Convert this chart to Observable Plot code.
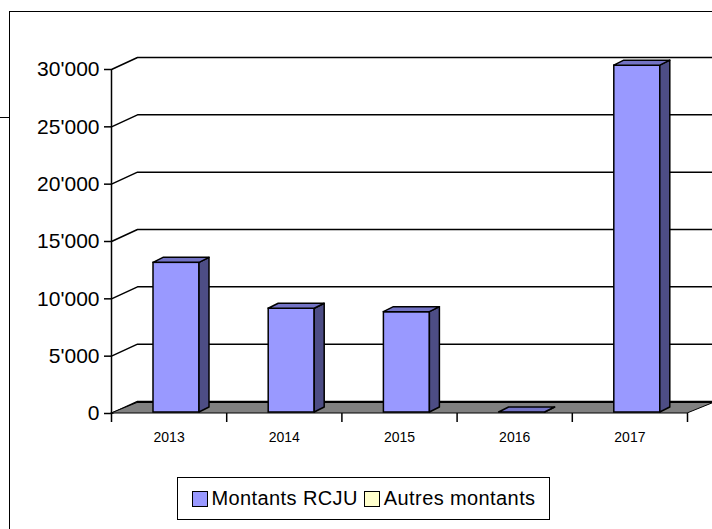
<!DOCTYPE html>
<html>
<head>
<meta charset="utf-8">
<script src="https://cdn.jsdelivr.net/npm/d3@7"></script>
<script src="https://cdn.jsdelivr.net/npm/@observablehq/plot@0.6"></script>
<style>
  html, body { margin: 0; padding: 0; background: #fff; color: #000; }
  #wrap { position: relative; width: 712px; height: 529px; overflow: hidden; font-family: "Liberation Sans", Arial, sans-serif; }
  #chart { position: absolute; left: 0; top: 0; }
  .frame { position: absolute; left: 9px; top: 11px; right: -5px; bottom: -5px; border-left: 1px solid #000; border-top: 1px solid #000; }
  .stub { position: absolute; left: 0; top: 117px; width: 9px; height: 0; border-top: 1px solid #000; }
  #legend { position: absolute; left: 177px; top: 477px; width: 371px; height: 41px; border: 1.5px solid #000; background: #fff;
            display: flex; align-items: center; justify-content: center; font-size: 20px; letter-spacing: 0.4px; }
  #legend .item { display: flex; align-items: center; margin: 0 3px; }
  #legend .sw { width: 14px; height: 14px; border: 1.5px solid #000; margin-right: 4px; }
</style>
</head>
<body>
<div id="wrap">
  <div class="frame"></div>
  <div class="stub"></div>
  <div id="chart"></div>
  <div id="legend"></div>
</div>
<script>
// ---- data ----
const years = ["2013", "2014", "2015", "2016", "2017"];
const montantsRCJU = [13050, 9050, 8750, 0, 30250];
const autresMontants = [0, 0, 0, 0, 0];
const yTicks = [0, 5000, 10000, 15000, 20000, 25000, 30000];
const seriesNames = ["Montants RCJU", "Autres montants"];
const seriesColors = ["#9999FF", "#FFFFCC"];

// ---- layout ----
const W = 712, H = 460, ML = 111, MR = 25, MT = 69, MB = 47;
const YMAX = 30000;
const pxX = (W - ML - MR) / years.length;
const pxY = (H - MT - MB) / YMAX;
const toX = px => px / pxX;
const toY = px => px / pxY;

const WDX = toX(26), WDY = toY(12), FDY = toY(10.5);
const BL = toX(42), BR = toX(88), BDX = toX(10), BDY = toY(5), BB = toY(1);
const XEND = years.length + toX(W - (ML + pxX * years.length));

const fmt = v => d3.format(",")(v).replace(/,/g, "'");

// table
const table = years.map((y, i) => ({year: y, i, rcju: montantsRCJU[i], autres: autresMontants[i]}));

// gridlines on back wall
const grid = [];
yTicks.forEach(t => {
  grid.push({t, x: 0, y: t});
  grid.push({t, x: WDX, y: t + WDY});
  grid.push({t, x: XEND, y: t + WDY});
});

// floor
const floorPts = [
  {x: 0, y1: 0, y2: 0},
  {x: WDX, y1: 0, y2: FDY},
  {x: years.length, y1: 0, y2: FDY},
  {x: years.length + WDX, y1: FDY, y2: FDY}
];

// bar faces
const sideFace = [], topFace = [];
table.forEach(d => {
  const x1 = d.i + BL, x2 = d.i + BR, v = d.rcju + BB;
  sideFace.push({id: d.year, x: x2, y1: BB, y2: v});
  sideFace.push({id: d.year, x: x2 + BDX, y1: BB + BDY, y2: v + BDY});
  topFace.push({id: d.year, x: x1, y1: v, y2: v});
  topFace.push({id: d.year, x: x1 + BDX, y1: v, y2: v + BDY});
  topFace.push({id: d.year, x: x2, y1: v, y2: v + BDY});
  topFace.push({id: d.year, x: x2 + BDX, y1: v + BDY, y2: v + BDY});
});

const chart = Plot.plot({
  width: W, height: H,
  marginLeft: ML, marginRight: MR, marginTop: MT, marginBottom: MB,
  x: {type: "linear", domain: [0, years.length], axis: null},
  y: {type: "linear", domain: [0, YMAX], axis: null},
  style: {fontFamily: "'Liberation Sans', Arial, sans-serif", background: "transparent", overflow: "visible", color: "#000"},
  marks: [
    Plot.line(grid, {x: "x", y: "y", z: "t", stroke: "#000", strokeWidth: 1.5}),
    Plot.area(floorPts, {x1: "x", y1: "y1", y2: "y2", fill: "#808080", stroke: "#000", strokeWidth: 1}),
    Plot.rect(table, {x1: d => d.i + BL, x2: d => d.i + BR, y1: BB, y2: d => d.rcju + BB,
      fill: seriesColors[0], stroke: "#000", strokeWidth: 1.5}),
    Plot.area(sideFace, {x1: "x", y1: "y1", y2: "y2", z: "id", fill: "#4D4D85", stroke: "#000", strokeWidth: 1.5}),
    Plot.area(topFace, {x1: "x", y1: "y1", y2: "y2", z: "id", fill: "#7373C4", stroke: "#000", strokeWidth: 1.5}),
    // y axis
    Plot.ruleX([0], {y1: -toY(9), y2: YMAX, stroke: "#000", strokeWidth: 1.5}),
    Plot.ruleY(yTicks, {x1: -toX(7), x2: 0, stroke: "#000", strokeWidth: 1.5}),
    Plot.text(yTicks, {x: 0, y: d => d, dx: -12, textAnchor: "end", text: fmt, fontSize: 21, fill: "#000"}),
    // x axis ticks and labels
    Plot.ruleX(d3.range(1, years.length + 1), {y1: 0, y2: -toY(9), stroke: "#000", strokeWidth: 1.5}),
    Plot.text(table, {x: d => d.i + 0.5, y: 0, dy: 24, text: "year", fontSize: 14, letterSpacing: "-0.5px", fill: "#000"})
  ]
});
document.getElementById("chart").appendChild(chart);

// legend
const legend = document.getElementById("legend");
seriesNames.forEach((name, k) => {
  const item = document.createElement("div");
  item.className = "item";
  const sw = document.createElement("div");
  sw.className = "sw";
  sw.style.background = seriesColors[k];
  const label = document.createElement("span");
  label.textContent = name;
  item.appendChild(sw);
  item.appendChild(label);
  legend.appendChild(item);
});
</script>
</body>
</html>
